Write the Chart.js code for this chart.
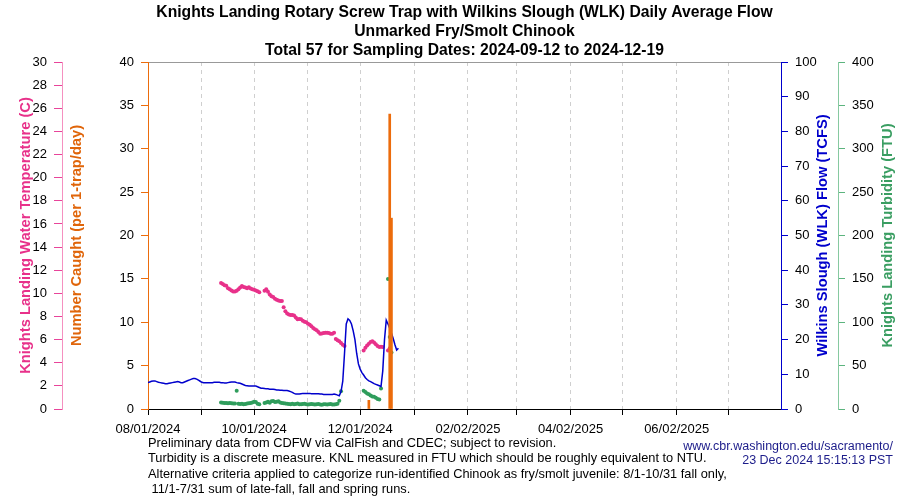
<!DOCTYPE html>
<html>
<head>
<meta charset="utf-8">
<title>Knights Landing Rotary Screw Trap</title>
<script src="https://cdn.jsdelivr.net/npm/chart.js@4.4.1/dist/chart.umd.min.js"></script>
<style>
  html, body { margin: 0; padding: 0; background: #fff; }
</style>
</head>
<body>
<canvas id="myChart" width="900" height="500"></canvas>
<script>
// x values are days counted from 08/01/2024
const monthTicks = [0, 31, 61, 92, 122, 153, 184, 212, 243, 273, 304, 334];
const tickLabels = ["08/01/2024", "", "10/01/2024", "", "12/01/2024", "", "02/02/2025", "", "04/02/2025", "", "06/02/2025", ""];

// Wilkins Slough daily average flow (TCFS), day 0 onward
const flowValues = [
  7.6, 7.8, 8.0, 8.1, 8.1, 7.9, 7.7, 7.6, 7.5, 7.4,
  7.3, 7.3, 7.4, 7.5, 7.6, 7.7, 7.8, 7.9, 7.8, 7.6,
  7.6, 7.8, 8.0, 8.2, 8.4, 8.6, 8.8, 8.8, 8.6, 8.3,
  8.0, 7.7, 7.6, 7.6, 7.6, 7.6, 7.6, 7.6, 7.7, 7.7,
  7.7, 7.7, 7.6, 7.6, 7.5, 7.5, 7.6, 7.7, 7.8, 7.8,
  7.8, 7.6, 7.5, 7.4, 7.2, 7.0, 6.8, 6.7, 6.6, 6.6,
  6.6, 6.6, 6.6, 6.4, 6.2, 6.0, 6.0, 5.9, 5.8, 5.8,
  5.7, 5.7, 5.7, 5.6, 5.5, 5.5, 5.4, 5.4, 5.3, 5.3,
  5.3, 5.2, 5.0, 4.8, 4.5, 4.3, 4.3, 4.3, 4.4, 4.5,
  4.5, 4.5, 4.5, 4.5, 4.4, 4.4, 4.4, 4.4, 4.4, 4.3,
  4.3, 4.2, 4.2, 4.2, 4.2, 4.2, 4.2, 4.3, 4.2, 4.0,
  3.8, 5.0, 8.0, 16.0, 24.5, 26.0, 25.5, 24.5, 22.5, 20.0,
  16.0, 13.0, 11.5, 10.5, 9.8, 9.0, 8.5, 8.1, 7.9, 7.6,
  7.3, 7.1, 6.9, 6.7, 6.5, 11.0, 20.0, 25.6, 24.5, 23.3,
  21.8, 20.3, 18.5, 17.0, 17.5
];

// Knights Landing water temperature (C), day 42 (09/12/2024) onward
const tempStartDay = 42;
const tempValues = [
  10.9, 10.8, 10.7, 10.65, 10.45, 10.35, 10.25, 10.15, 10.15, 10.23,
  10.35, 10.5, 10.63, 10.55, 10.5, 10.45, 10.52, 10.42, 10.35, 10.3,
  10.25, 10.18, 10.1, null, null, 10.23, 10.35, 10.14, 9.9, 9.75,
  9.68, 9.54, 9.45, 9.38, 9.34, 9.34, 8.79, 8.45, 8.25, 8.18,
  8.13, 8.13, 8.08, 7.9, 7.75, 7.78, 7.75, 7.62, 7.55, 7.5,
  7.38, 7.28, 7.15, 7.0, 6.9, 6.8, 6.65, 6.5, 6.52, 6.58,
  6.6, 6.6, 6.57, 6.5, 6.5, 6.6, 6.05, 5.95, 5.85, 5.7,
  5.55, 5.45, null, null, null, null, null, null, null, null,
  null, null, 5.05, 5.3, 5.5, 5.65, 5.8, 5.85, 5.75, 5.6,
  5.45, 5.35, 5.38, 5.35, null, null, 5.05, 5.25
];

// Knights Landing turbidity (FTU), day 42 onward
const turbStartDay = 42;
const turbValues = [
  7.5, 7.2, 7.0, 6.8, 6.5, 6.8, 6.6, 6.4, 6.2, 21.0,
  6.0, 5.8, 6.0, 5.6, 5.8, 6.2, 6.5, 7.0, 7.5, 8.4,
  8.0, 6.0, 5.5, null, null, 7.0, 7.5, 8.5, 7.2, 8.8,
  9.2, 8.0, 8.5, 9.0, 7.5, 7.0, 6.5, 6.2, 6.0, 5.8,
  5.6, 6.0, 5.5, 5.8, 6.2, 5.6, 5.4, 5.8, 6.0, 5.5,
  5.2, 5.6, 5.8, 5.4, 5.2, 5.5, 5.8, 5.3, 5.0, 5.4,
  5.6, 5.2, 5.5, 5.8, 5.3, 5.2, 5.5, 6.0, 9.6, 20.5,
  null, null, null, null, null, null, null, null, null, null,
  null, null, 21.0, 19.5, 18.0, 17.0, 15.5, 14.5, 14.0, 13.0,
  11.5, 11.0, 23.5, null, null, null, 150, 83, 65
];

// Unmarked fry/smolt Chinook caught
const catchDays = [127, 139, 140];
const catchValues = [1, 34, 22];

const titleLines = [
  "Knights Landing Rotary Screw Trap with Wilkins Slough (WLK) Daily Average Flow",
  "Unmarked Fry/Smolt Chinook",
  "Total 57 for Sampling Dates: 2024-09-12 to 2024-12-19",
];
const footLeft = [
  "Preliminary data from CDFW via CalFish and CDEC; subject to revision.",
  "Turbidity is a discrete measure. KNL measured in FTU which should be roughly equivalent to NTU.",
  "Alternative criteria applied to categorize run-identified Chinook as fry/smolt juvenile: 8/1-10/31 fall only,",
  " 11/1-7/31 sum of late-fall, fall and spring runs.",
];
const footRight = ["www.cbr.washington.edu/sacramento/", "23 Dec 2024 15:15:13 PST"];

const FONT = '"Liberation Sans", Arial, Helvetica, sans-serif';
const PINK = "#e8318a";
const ORANGE = "#ec6c0c";
const BLUE = "#0000cc";
const GREEN = "#2f9d5c";

window.onload = () => {
  const canvas = document.getElementById("myChart");
  const ctx = canvas.getContext("2d");

  const flowData = flowValues.map((v, i) => ({ x: i, y: v }));
  const tempData = tempValues.map((v, i) => ({ x: tempStartDay + i, y: v }));
  const turbData = turbValues.map((v, i) => ({ x: turbStartDay + i, y: v }));
  const catchData = catchDays.map((d, i) => ({ x: d, y: catchValues[i] }));

  // titles, rotated axis titles and footnotes
  const textPlugin = {
    id: "texts",
    afterDraw(chart) {
      const c = chart.ctx;
      const area = chart.chartArea;
      const s = chart.scales;
      const midY = (area.top + area.bottom) / 2;
      c.save();
      c.textBaseline = "middle";

      c.fillStyle = "#000";
      c.textAlign = "center";
      c.font = `bold 15.7px ${FONT}`;
      const cx = (area.left + area.right) / 2;
      titleLines.forEach((t, i) => c.fillText(t, cx, 13 + i * 18.7));

      const vtitle = (text, x, color) => {
        c.save();
        c.translate(x, midY);
        c.rotate(-Math.PI / 2);
        c.fillStyle = color;
        c.font = `bold 14.7px ${FONT}`;
        c.textAlign = "center";
        c.fillText(text, 0, 0);
        c.restore();
      };
      vtitle("Knights Landing Water Temperature (C)", s.yTemp.left + 26, PINK);
      vtitle("Number Caught (per 1-trap/day)", s.yCount.left + 15, "#e0650a");
      vtitle("Wilkins Slough (WLK) Flow (TCFS)", s.yFlow.left + 42, BLUE);
      vtitle("Knights Landing Turbidity (FTU)", s.yTurb.left + 50, "#3a9e62");

      c.font = `12.8px ${FONT}`;
      c.textAlign = "left";
      c.fillStyle = "#000";
      footLeft.forEach((t, i) => c.fillText(t, area.left, 443 + i * 15.6));
      c.font = `12.5px ${FONT}`;
      c.textAlign = "right";
      c.fillStyle = "#1c1c8a";
      footRight.forEach((t, i) => c.fillText(t, 893, 447 + i * 14));
      c.restore();
    },
  };

  const tickFont = { family: FONT, size: 13 };

  new Chart(ctx, {
    type: "line",
    data: {
      datasets: [
        {
          type: "bar",
          label: "Number Caught",
          data: catchData,
          yAxisID: "yCount",
          backgroundColor: ORANGE,
          barThickness: 2,
          order: 0,
        },
        {
          label: "Flow",
          data: flowData,
          yAxisID: "yFlow",
          borderColor: BLUE,
          borderWidth: 1.5,
          pointRadius: 0,
          tension: 0,
          order: 1,
        },
        {
          label: "Temperature",
          data: tempData,
          yAxisID: "yTemp",
          showLine: false,
          pointRadius: 2,
          pointBorderWidth: 0,
          pointBackgroundColor: PINK,
          order: 2,
        },
        {
          label: "Turbidity",
          data: turbData,
          yAxisID: "yTurb",
          showLine: false,
          pointRadius: 2,
          pointBorderWidth: 0,
          pointBackgroundColor: GREEN,
          order: 3,
        },
      ],
    },
    options: {
      responsive: false,
      animation: false,
      layout: { padding: { top: 62, left: 0, right: 0, bottom: 0 } },
      plugins: {
        legend: { display: false },
        tooltip: { enabled: false },
        title: { display: false },
      },
      scales: {
        x: {
          type: "linear",
          position: "bottom",
          min: 0,
          max: 364,
          offset: false,
          afterBuildTicks: (scale) => {
            scale.ticks = monthTicks.map((v) => ({ value: v }));
          },
          afterFit: (scale) => {
            scale.height = 91;
          },
          ticks: {
            autoSkip: false,
            maxRotation: 0,
            padding: 7,
            color: "#000",
            font: tickFont,
            callback: (v, i) => tickLabels[i],
          },
          grid: {
            offset: false,
            color: (c) => (c.index === 0 ? "rgba(0,0,0,0)" : "#cfcfcf"),
            tickColor: "#000",
            tickLength: 6,
          },
          border: { color: "#000", dash: [4, 4] },
        },
        xTop: {
          type: "linear",
          position: "top",
          min: 0,
          max: 364,
          offset: false,
          ticks: { display: false },
          grid: { display: false, drawTicks: false, offset: false },
          border: { color: "#999" },
          afterFit: (scale) => {
            scale.height = 0;
          },
        },
        yCount: {
          type: "linear",
          position: "left",
          min: 0,
          max: 40,
          ticks: { stepSize: 5, padding: 7, color: "#000", font: tickFont },
          grid: { drawOnChartArea: false, color: ORANGE, tickLength: 7 },
          border: { color: ORANGE },
          afterFit: (scale) => {
            scale.width = 86;
          },
        },
        yTemp: {
          type: "linear",
          position: "left",
          min: 0,
          max: 30,
          ticks: { stepSize: 2, padding: 7, color: "#000", font: tickFont },
          grid: { drawOnChartArea: false, color: "#e8449a", tickLength: 8 },
          border: { color: "#f590c0" },
          afterFit: (scale) => {
            scale.width = 62;
          },
        },
        yFlow: {
          type: "linear",
          position: "right",
          min: 0,
          max: 100,
          ticks: { stepSize: 10, padding: 7, color: "#000", font: tickFont },
          grid: { drawOnChartArea: false, color: BLUE, tickLength: 7 },
          border: { color: BLUE },
          afterFit: (scale) => {
            scale.width = 57;
          },
        },
        yTurb: {
          type: "linear",
          position: "right",
          min: 0,
          max: 400,
          ticks: { stepSize: 50, padding: 7, color: "#000", font: tickFont },
          grid: { drawOnChartArea: false, color: "#5cb47e", tickLength: 7 },
          border: { color: "#86c9a0" },
          afterFit: (scale) => {
            scale.width = 62;
          },
        },
      },
    },
    plugins: [textPlugin],
  });
};
</script>
</body>
</html>
